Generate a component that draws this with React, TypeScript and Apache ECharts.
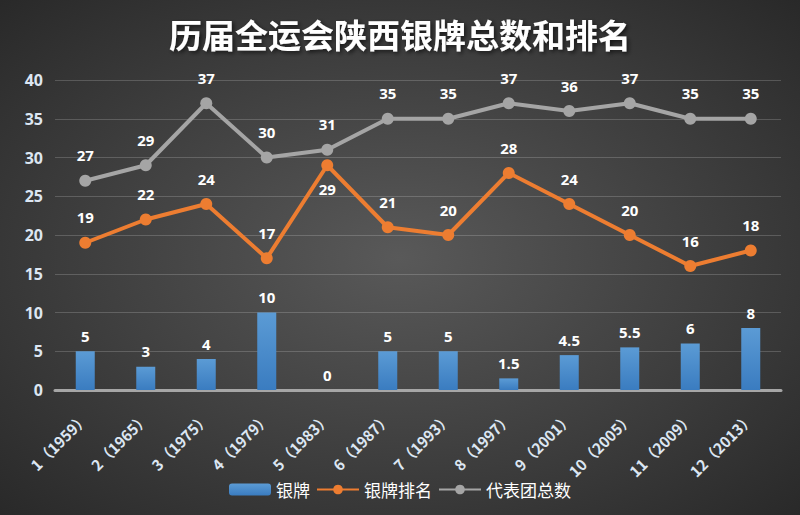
import React, { useEffect, useRef } from "react";
import * as echarts from "echarts";

const categories = ["1（1959）", "2（1965）", "3（1975）", "4（1979）", "5（1983）", "6（1987）", "7（1993）", "8（1997）", "9（2001）", "10（2005）", "11（2009）", "12（2013）"];
const silver = [5, 3, 4, 10, 0, 5, 5, 1.5, 4.5, 5.5, 6, 8];
const rank = [19, 22, 24, 17, 29, 21, 20, 28, 24, 20, 16, 18];
const total = [27, 29, 37, 30, 31, 35, 35, 37, 36, 37, 35, 35];

export default function App() {
  const ref = useRef<HTMLDivElement>(null);
  useEffect(() => {
    const chart = echarts.init(ref.current!, null, { renderer: "svg" });
    const labelStyle = { color: "#ffffff", fontWeight: "bold", fontSize: 15, fontFamily: "Open Sans" };
    chart.setOption({
      animation: false,
      backgroundColor: {
        type: "radial", x: 0.5, y: 0.5, r: 0.75,
        colorStops: [{ offset: 0, color: "#595959" }, { offset: 1, color: "#262626" }],
      },
      title: {
        text: "历届全运会陕西银牌总数和排名",
        left: "center", top: 12,
        textStyle: {
          color: "#ffffff", fontSize: 33, fontWeight: "bold", fontFamily: "Noto Sans CJK SC",
          textShadowColor: "rgba(0,0,0,0.6)", textShadowBlur: 4, textShadowOffsetX: 2, textShadowOffsetY: 2,
        },
      },
      legend: {
        bottom: 12, left: "center",
        itemWidth: 42, itemHeight: 12, itemGap: 6,
        textStyle: { color: "#ffffff", fontSize: 17, fontFamily: "Noto Sans CJK SC" },
        data: ["银牌", "银牌排名", "代表团总数"],
      },
      grid: { left: 55, right: 19, top: 80, bottom: 125, containLabel: false },
      xAxis: {
        type: "category", data: categories,
        axisLine: { lineStyle: { color: "#a6a6a6", width: 3 } },
        axisTick: { show: false },
        axisLabel: { rotate: 45, color: "#dce6f2", fontSize: 15, fontWeight: "bold", fontFamily: "Noto Sans CJK SC", margin: 25, interval: 0 },
      },
      yAxis: {
        type: "value", min: 0, max: 40, interval: 5,
        axisLine: { show: false }, axisTick: { show: false },
        axisLabel: { color: "#dce6f2", fontSize: 16, fontWeight: "bold", fontFamily: "Open Sans", margin: 12 },
        splitLine: { lineStyle: { color: "rgba(255,255,255,0.18)", width: 1 } },
      },
      series: [
        {
          name: "银牌", type: "bar", data: silver, barWidth: 19,
          itemStyle: {
            color: { type: "linear", x: 0, y: 0, x2: 0, y2: 1, colorStops: [{ offset: 0, color: "#5b9bd5" }, { offset: 1, color: "#3a7cc0" }] },
          },
          label: { show: true, position: "top", distance: 8, ...labelStyle },
        },
        {
          name: "银牌排名", type: "line", data: rank.map((v, i) => i === 4 ? { value: v, label: { position: "bottom", distance: 10 } } : v),
          symbol: "circle", symbolSize: 12,
          lineStyle: { color: "#ed7d31", width: 4 }, itemStyle: { color: "#ed7d31" },
          label: { show: true, position: "top", distance: 12, ...labelStyle },
        },
        {
          name: "代表团总数", type: "line", data: total,
          symbol: "circle", symbolSize: 12,
          lineStyle: { color: "#a5a5a5", width: 4 }, itemStyle: { color: "#a5a5a5" },
          label: { show: true, position: "top", distance: 12, ...labelStyle },
        },
      ],
    });
    return () => chart.dispose();
  }, []);
  return <div ref={ref} style={{ width: 800, height: 515, position: "absolute", left: 0, top: 0 }} />;
}
